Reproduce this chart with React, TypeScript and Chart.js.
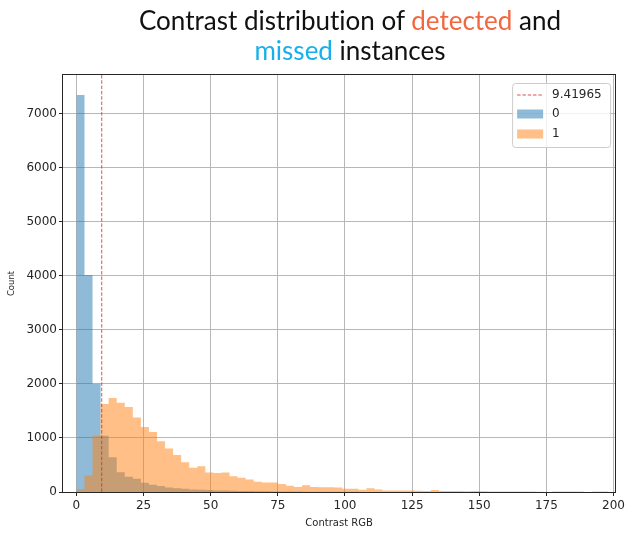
import { useEffect, useRef } from "react";
import { Chart, registerables } from "chart.js";

Chart.register(...registerables);

// Histogram bins: bin i covers [i * BIN_WIDTH, (i + 1) * BIN_WIDTH)
const BIN_WIDTH = 3;

// Series "0": missed instances
const missedCounts = [
  7350, 4016, 2005, 1043, 643, 366, 280, 243, 170, 133,
  113, 84, 71, 59, 47, 41, 35, 30, 26, 22,
  19, 17, 14, 12, 11, 9, 8, 7, 6, 6,
  5, 4, 4, 3, 3, 2, 2, 2, 1, 1, 1,
];

// Series "1": detected instances
const detectedCounts = [
  50, 305, 1043, 1630, 1740, 1650, 1575, 1380, 1205, 1110,
  940, 805, 685, 550, 450, 475, 360, 350, 360, 292,
  262, 232, 190, 178, 178, 148, 116, 94, 123, 92,
  87, 86, 84, 62, 61, 42, 68, 44, 30, 30,
  29, 28, 24, 20, 37, 18, 17, 18, 16, 17,
  15, 11, 10, 9, 9, 8, 7, 6, 0, 11,
  10, 10, 10, 0, 9, 8, 2,
];

const seriesLabels = ["0", "1"];
const thresholdValue = 9.41965;

const xTickValues = [0, 25, 50, 75, 100, 125, 150, 175, 200];
const yTickValues = [0, 1000, 2000, 3000, 4000, 5000, 6000, 7000];
const xLimits = [-5, 200.6];
const yLimits = [0, 7718];

const BLUE = "rgba(31, 119, 180, 0.5)";
const ORANGE = "rgba(255, 127, 14, 0.5)";
const RED_DASH = "rgba(214, 39, 40, 0.8)";
const INK = "#262626";
const TICK_FONT = { family: "'DejaVu Sans', sans-serif", size: 12 };

// Step outline of a histogram: one point per bin edge, the last edge closing the final bin
const toStepPoints = (counts: number[]) => [
  ...counts.map((c, i) => ({ x: i * BIN_WIDTH, y: c })),
  { x: counts.length * BIN_WIDTH, y: counts[counts.length - 1] },
];

const histDataset = (label: string, counts: number[], color: string, order: number) => ({
  label,
  data: toStepPoints(counts),
  stepped: "before",
  fill: "origin",
  backgroundColor: color,
  borderColor: "rgba(0,0,0,0)",
  borderWidth: 0,
  pointRadius: 0,
  order,
});

// Axes frame plus the vertical threshold marker
const framePlugin = {
  id: "frameAndThreshold",
  afterDatasetsDraw(chart: any) {
    const { ctx, chartArea, scales } = chart;
    const xPix = scales.x.getPixelForValue(thresholdValue);
    ctx.save();
    ctx.strokeStyle = RED_DASH;
    ctx.lineWidth = 1;
    ctx.setLineDash([3.5, 1.8]);
    ctx.beginPath();
    ctx.moveTo(xPix, chartArea.top);
    ctx.lineTo(xPix, chartArea.bottom);
    ctx.stroke();
    ctx.setLineDash([]);
    ctx.strokeStyle = INK;
    ctx.lineWidth = 1;
    ctx.strokeRect(
      Math.round(chartArea.left) - 0.5,
      Math.round(chartArea.top) - 0.5,
      Math.round(chartArea.right - chartArea.left) + 1,
      Math.round(chartArea.bottom - chartArea.top) + 1
    );
    ctx.restore();
  },
};

// Legend box in the upper right corner of the plot
const legendPlugin = {
  id: "cornerLegend",
  afterDraw(chart: any) {
    const { ctx, chartArea } = chart;
    const w = 98;
    const h = 64;
    const x0 = chartArea.right - 5 - w;
    const y0 = chartArea.top + 8;
    ctx.save();
    ctx.beginPath();
    if (ctx.roundRect) ctx.roundRect(x0 + 0.5, y0 + 0.5, w, h, 3);
    else ctx.rect(x0 + 0.5, y0 + 0.5, w, h);
    ctx.fillStyle = "rgba(255,255,255,0.8)";
    ctx.fill();
    ctx.strokeStyle = "#cccccc";
    ctx.lineWidth = 1;
    ctx.stroke();

    const hx = x0 + 5;
    const hw = 26;
    const tx = x0 + 40;
    const rows = [y0 + 12, y0 + 31, y0 + 51];
    ctx.font = "12px 'DejaVu Sans', sans-serif";
    ctx.fillStyle = INK;
    ctx.textBaseline = "middle";

    ctx.strokeStyle = RED_DASH;
    ctx.setLineDash([3.5, 1.8]);
    ctx.beginPath();
    ctx.moveTo(hx, rows[0]);
    ctx.lineTo(hx + hw, rows[0]);
    ctx.stroke();
    ctx.setLineDash([]);
    ctx.fillText(String(thresholdValue), tx, rows[0]);

    const ds = chart.data.datasets;
    [0, 1].forEach((k) => {
      const y = rows[k + 1];
      ctx.fillStyle = ds[k].backgroundColor;
      ctx.fillRect(hx, y - 4.5, hw, 9);
      ctx.fillStyle = INK;
      ctx.fillText(ds[k].label, tx, y);
    });
    ctx.restore();
  },
};

export default function App() {
  const canvasRef = useRef<HTMLCanvasElement | null>(null);

  useEffect(() => {
    if (!canvasRef.current) return;
    const chart = new Chart(canvasRef.current, {
      type: "line",
      data: {
        datasets: [
          histDataset(seriesLabels[0], missedCounts, BLUE, 1),
          histDataset(seriesLabels[1], detectedCounts, ORANGE, 0),
        ],
      } as any,
      options: {
        animation: false,
        responsive: false,
        maintainAspectRatio: false,
        layout: { padding: { top: 75, right: 12, bottom: 0, left: 0 } },
        plugins: {
          legend: { display: false },
          tooltip: { enabled: false },
          title: { display: false },
          filler: { propagate: false },
        },
        scales: {
          x: {
            type: "linear",
            min: xLimits[0],
            max: xLimits[1],
            offset: false,
            afterBuildTicks: (s: any) => {
              s.ticks = xTickValues.map((v) => ({ value: v }));
            },
            afterFit: (s: any) => {
              s.height = 42;
            },
            grid: {
              offset: false,
              color: "rgba(176,176,176,0.9)",
              lineWidth: 1,
              tickColor: INK,
              tickLength: 4,
            },
            border: { display: false },
            ticks: {
              font: TICK_FONT,
              color: INK,
              padding: 3,
              maxRotation: 0,
              autoSkip: false,
              callback: (v: any) => String(v),
            },
            title: {
              display: true,
              text: "Contrast RGB",
              color: INK,
              font: { family: "'DejaVu Sans', sans-serif", size: 10 },
              padding: { top: 0, bottom: 5 },
            },
          },
          y: {
            type: "linear",
            min: yLimits[0],
            max: yLimits[1],
            afterBuildTicks: (s: any) => {
              s.ticks = yTickValues.map((v) => ({ value: v }));
            },
            afterFit: (s: any) => {
              s.width = 63;
            },
            grid: {
              color: "rgba(176,176,176,0.9)",
              lineWidth: 1,
              tickColor: INK,
              tickLength: 4,
            },
            border: { display: false },
            ticks: {
              font: TICK_FONT,
              color: INK,
              padding: 2,
              autoSkip: false,
              callback: (v: any) => String(v),
            },
            title: {
              display: true,
              text: "Count",
              color: INK,
              font: { family: "'DejaVu Sans', sans-serif", size: 8.5 },
              padding: { top: 7, bottom: 0 },
            },
          },
        },
      } as any,
      plugins: [framePlugin, legendPlugin],
    });
    return () => chart.destroy();
  }, []);

  return (
    <div
      style={{
        position: "fixed",
        left: 0,
        top: 0,
        width: 628,
        height: 534,
        background: "#ffffff",
      }}
    >
      <canvas ref={canvasRef} width={628} height={534} style={{ display: "block" }} />
      <div
        style={{
          position: "absolute",
          left: 350 - 300,
          top: 5,
          width: 600,
          textAlign: "center",
          fontFamily: "Lato, sans-serif",
          fontSize: 26,
          lineHeight: "30px",
          fontVariantLigatures: "none",
          color: "#111111",
        }}
      >
        <div>
          Contrast distribution of <span style={{ color: "#f2673f" }}>detected</span> and
        </div>
        <div>
          <span style={{ color: "#18b0ea" }}>missed</span> instances
        </div>
      </div>
    </div>
  );
}
